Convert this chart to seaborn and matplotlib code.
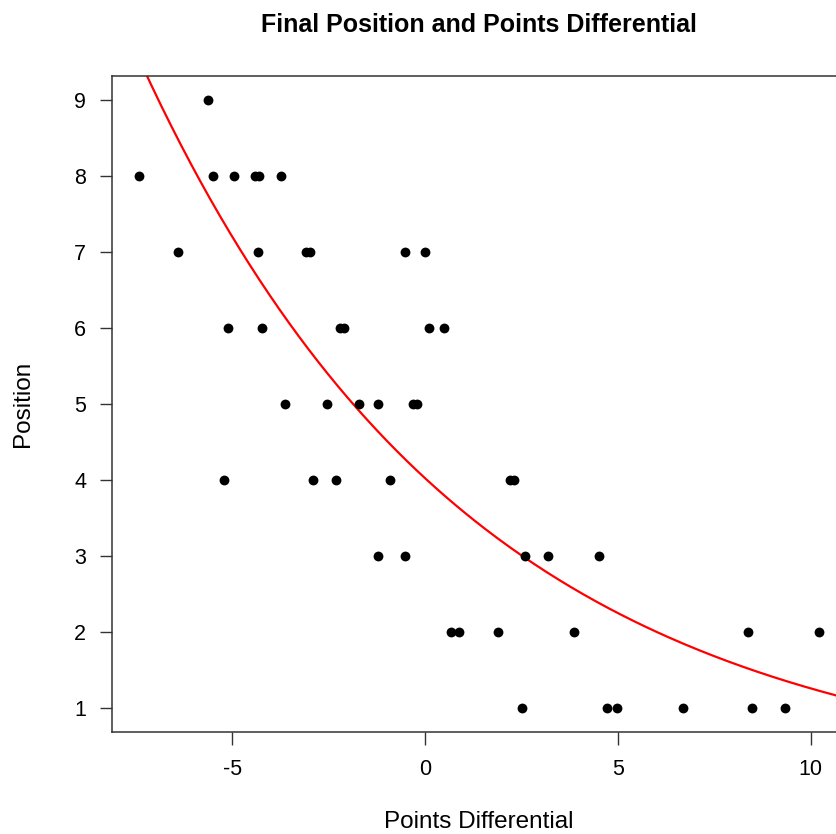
import numpy as np
import pandas as pd
import matplotlib
matplotlib.use("Agg")
import matplotlib.pyplot as plt
import seaborn as sns

# ---- data ----
points_diff = [
    -5.63,
    -7.41, -5.51, -4.95, -4.42, -4.30, -3.74,
    -6.42, -4.32, -3.10, -2.99, -0.53, 0.00,
    -5.10, -4.22, -2.21, -2.10, 0.10, 0.50,
    -3.63, -2.53, -1.70, -1.21, -0.30, -0.21,
    -5.21, -2.91, -2.32, -0.91, 2.20, 2.30,
    -1.21, -0.53, 2.60, 3.19, 4.50,
    0.67, 0.89, 1.89, 3.87, 8.39, 10.21,
    2.51, 4.71, 4.98, 6.70, 8.49, 9.33,
]
position = (
    [9] + [8] * 6 + [7] * 6 + [6] * 6 + [5] * 6 + [4] * 6 + [3] * 5 + [2] * 6 + [1] * 6
)
x_ticks = [-5, 0, 5, 10]
y_ticks = [1, 2, 3, 4, 5, 6, 7, 8, 9]

df = pd.DataFrame({"diff": points_diff, "pos": position})

# Poisson GLM (log link) fit by IRLS: log(pos) = b0 + b1 * diff
X = np.column_stack([np.ones(len(df)), df["diff"].values])
yv = df["pos"].values.astype(float)
beta = np.array([np.log(yv.mean()), 0.0])
for _ in range(50):
    eta = X @ beta
    mu = np.exp(eta)
    z = eta + (yv - mu) / mu
    W = mu
    beta = np.linalg.solve(X.T @ (W[:, None] * X), X.T @ (W * z))

xlim = (-8.12, 10.92)
ylim = (0.68, 9.32)
grid = np.linspace(xlim[0], xlim[1], 300)
fit = pd.DataFrame({"diff": grid, "pos": np.exp(beta[0] + beta[1] * grid)})

# ---- figure ----
sns.set_theme(style="white")
plt.rcParams["font.family"] = ["Liberation Sans", "DejaVu Sans"]
plt.rcParams["text.color"] = "black"
plt.rcParams["axes.labelcolor"] = "black"

W_px, H_px = 836, 834
fig = plt.figure(figsize=(W_px / 100, H_px / 100), dpi=100)
left, right, top, bottom = 112, 846, 75.6, 732
ax = fig.add_axes([left / W_px, (H_px - bottom) / H_px,
                   (right - left) / W_px, (bottom - top) / H_px])

sns.lineplot(data=fit, x="diff", y="pos", ax=ax, color="#ff0000", lw=1.6,
             estimator=None, sort=False)
sns.scatterplot(data=df, x="diff", y="pos", ax=ax, color="black", s=50,
                linewidth=0, zorder=3)

ax.set_xlim(*xlim)
ax.set_ylim(*ylim)
ax.set_xticks(x_ticks)
ax.set_yticks(y_ticks)
ax.set_xticklabels([str(v) for v in x_ticks])
ax.set_yticklabels([str(v) for v in y_ticks])
ax.tick_params(axis="both", which="major", direction="out", length=9,
               width=1, color="#333333", labelsize=15.5, labelcolor="black",
               bottom=True, left=True)
ax.tick_params(axis="x", pad=10.5)
ax.tick_params(axis="y", pad=9.5)
for sp in ax.spines.values():
    sp.set_color("#333333")
    sp.set_linewidth(1.1)

ax.set_xlabel("Points Differential", fontsize=17.5, labelpad=22.5, color="black")
ax.set_ylabel("Position", fontsize=17.5, labelpad=29, color="black")
fig.text((left + right) / 2 / W_px, 1 - 25 / H_px,
         "Final Position and Points Differential",
         ha="center", va="center", fontsize=18, fontweight="bold", color="black")

fig.savefig("out.png", dpi=100, facecolor="white")
